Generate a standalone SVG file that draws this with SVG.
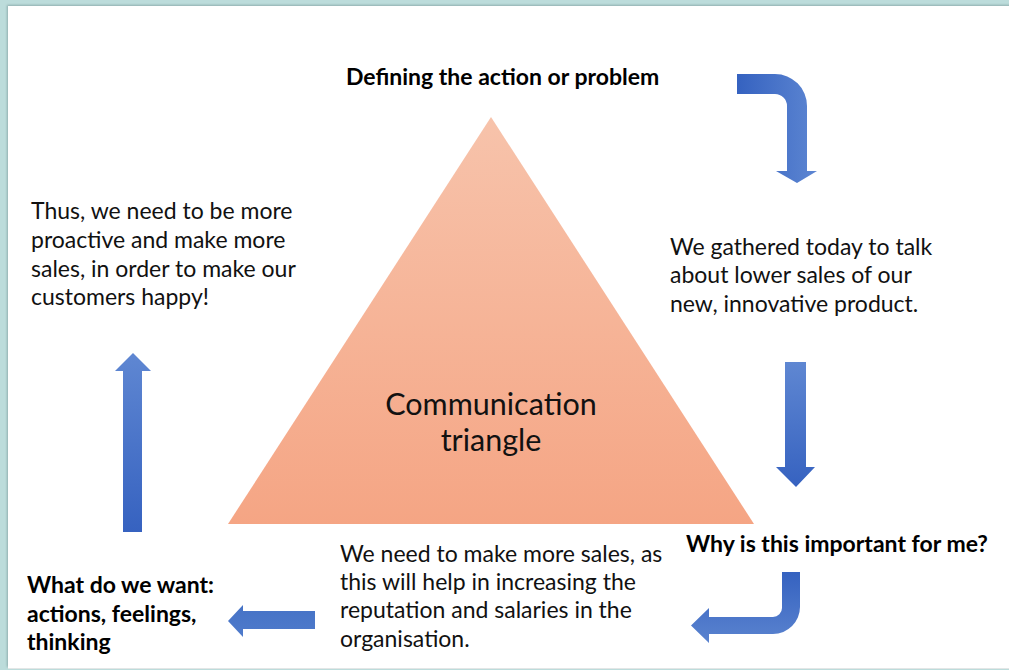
<svg xmlns="http://www.w3.org/2000/svg" width="1009" height="670" viewBox="0 0 1009 670">
  <defs>
    <linearGradient id="triFill" x1="0" y1="0" x2="0" y2="1">
      <stop offset="0" stop-color="#f7c3ab"/>
      <stop offset="1" stop-color="#f5a584"/>
    </linearGradient>
    <linearGradient id="blueH" x1="0" y1="0" x2="1" y2="0">
      <stop offset="0" stop-color="#3562c0"/>
      <stop offset="1" stop-color="#5d86d2"/>
    </linearGradient>
    <linearGradient id="blueUp" x1="0" y1="0" x2="0" y2="1">
      <stop offset="0" stop-color="#5f87d2"/>
      <stop offset="1" stop-color="#3662c0"/>
    </linearGradient>
    <linearGradient id="blueDown" x1="0" y1="0" x2="0" y2="1">
      <stop offset="0" stop-color="#3562c0"/>
      <stop offset="1" stop-color="#5a83cf"/>
    </linearGradient>
    <linearGradient id="blueFlat" x1="0" y1="0" x2="0" y2="1">
      <stop offset="0" stop-color="#4572c6"/>
      <stop offset="1" stop-color="#4f7bcb"/>
    </linearGradient>
    <filter id="cardShadow" x="-5%" y="-5%" width="110%" height="110%">
      <feDropShadow dx="-1" dy="-1" stdDeviation="1.2" flood-color="#6f8f8f" flood-opacity="0.6"/>
    </filter>
  </defs>
  <style>
    .body { font-family: Lato, "Liberation Sans", sans-serif; font-size: 23px; fill: #111; }
    .head { font-family: Lato, "Liberation Sans", sans-serif; font-size: 23px; font-weight: bold; fill: #000; }
    .center { font-family: Lato, "Liberation Sans", sans-serif; font-size: 30.5px; fill: #111; text-anchor: middle; }
  </style>

  <!-- page background and white card -->
  <rect x="0" y="0" width="1009" height="670" fill="#bcdcdb"/>
  <rect x="8" y="6" width="1010" height="662" fill="#ffffff" filter="url(#cardShadow)"/>
  <line x1="8" y1="668.5" x2="1009" y2="668.5" stroke="#e3e6e6" stroke-width="1"/>

  <!-- central triangle -->
  <g id="triangle">
    <polygon points="491,117 754,524 228,524" fill="url(#triFill)"/>
    <text class="center" x="491" y="415">Communication</text>
    <text class="center" x="491" y="451">triangle</text>
  </g>

  <g id="define">
    <text class="head" x="346" y="85">Defining the action or problem</text>
  </g>

  <g id="gathered">
    <text class="body" x="670" y="255">We gathered today to talk</text>
    <text class="body" x="670" y="283">about lower sales of our</text>
    <text class="body" x="670" y="312">new, innovative product.</text>
  </g>

  <g id="why">
    <text class="head" x="686" y="552">Why is this important for me?</text>
  </g>

  <g id="needs">
    <text class="body" x="340" y="562">We need to make more sales, as</text>
    <text class="body" x="340" y="590">this will help in increasing the</text>
    <text class="body" x="340" y="618">reputation and salaries in the</text>
    <text class="body" x="340" y="647">organisation.</text>
  </g>

  <g id="want">
    <text class="head" x="27" y="593">What do we want:</text>
    <text class="head" x="27" y="622">actions, feelings,</text>
    <text class="head" x="27" y="650">thinking</text>
  </g>

  <g id="thus">
    <text class="body" x="31" y="219">Thus, we need to be more</text>
    <text class="body" x="31" y="248">proactive and make more</text>
    <text class="body" x="31" y="277">sales, in order to make our</text>
    <text class="body" x="31" y="305">customers happy!</text>
  </g>

  <!-- block arrows linking the stages -->
  <g id="connectors">
    <path d="M737,74 H775 A32,32 0 0 1 807,106 V171 H817 L797,183 L776,171 H787 V106 A12,12 0 0 0 775,94 H737 Z" fill="url(#blueH)"/>
    <path d="M785,362 H806 V467 H815 L796,487 L776,467 H785 Z" fill="url(#blueUp)"/>
    <path d="M782,572 H800 V607 A27,27 0 0 1 773,634 H709 V643 L691,625.5 L709,608 V617 H773 A9,9 0 0 0 782,608 Z" fill="url(#blueDown)"/>
    <path d="M315,611 V629 H243 V637 L228,621 L243,605 V611 Z" fill="url(#blueFlat)"/>
    <path d="M123,532 V371 H115 L133,353 L151,371 H142 V532 Z" fill="url(#blueUp)"/>
  </g>
</svg>
